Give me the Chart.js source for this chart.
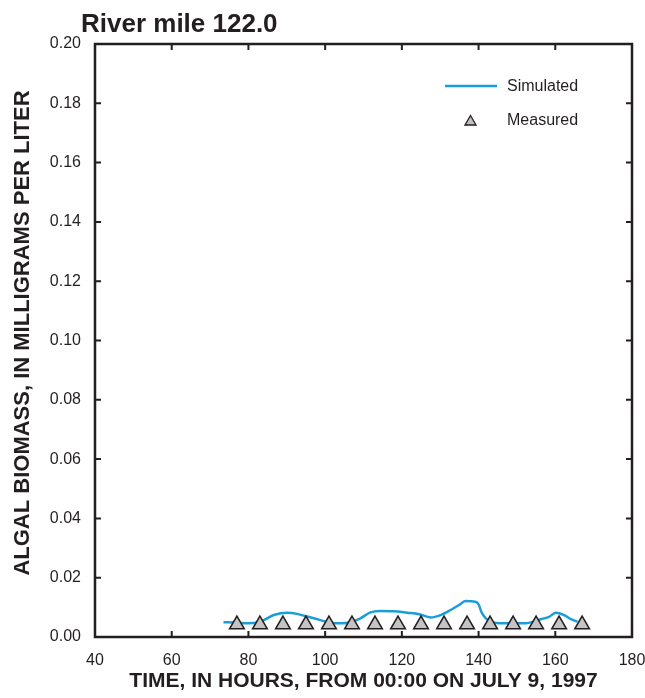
<!DOCTYPE html>
<html>
<head>
<meta charset="utf-8">
<script src="https://cdn.jsdelivr.net/npm/chart.js@4/dist/chart.umd.min.js"></script>
<style>
  html, body { margin: 0; padding: 0; background: #fff; }
  #wrap { width: 645px; height: 698px; position: relative; }
</style>
</head>
<body>
<div id="wrap"><canvas id="chart" width="645" height="698"></canvas></div>
<script>
// time in hours since 00:00 July 9, 1997
var simHours = [73.5, 77.0, 80.0, 83.1, 86.6, 90.1, 92.7, 95.3, 98.8, 101.4, 104.0, 106.6, 109.2, 111.8, 114.4, 117.9, 121.4, 124.5, 127.5, 130.1, 132.7, 134.9, 136.6, 139.2, 140.1, 140.7, 141.9, 144.0, 147.5, 151.9, 154.5, 156.2, 158.4, 160.1, 162.3, 164.1, 165.8];
var simBiomass = [0.0050, 0.0048, 0.0046, 0.0052, 0.0074, 0.0082, 0.0078, 0.0069, 0.0057, 0.0048, 0.0046, 0.0050, 0.0063, 0.0083, 0.0088, 0.0087, 0.0082, 0.0077, 0.0066, 0.0074, 0.0091, 0.0108, 0.0121, 0.0119, 0.0108, 0.0085, 0.0063, 0.0048, 0.0046, 0.0046, 0.0052, 0.0060, 0.0068, 0.0082, 0.0074, 0.0060, 0.0052];

var measHours = [77, 83, 89, 95, 101, 107, 113, 119, 125, 131, 137, 143, 149, 155, 161, 167];
var measBiomass = [0.0042, 0.0042, 0.0042, 0.0042, 0.0042, 0.0042, 0.0042, 0.0042, 0.0042, 0.0042, 0.0042, 0.0042, 0.0042, 0.0042, 0.0042, 0.0042];

var xTicks = [40, 60, 80, 100, 120, 140, 160, 180];
var yTicks = [0, 0.02, 0.04, 0.06, 0.08, 0.10, 0.12, 0.14, 0.16, 0.18, 0.20];

var FONT = "'Liberation Sans', Arial, Helvetica, sans-serif";
var INK = '#231f20';
var BLUE = '#1b9dd9';

Chart.defaults.font.family = FONT;
Chart.defaults.color = INK;

function toPoints(xs, ys) {
  var pts = [];
  for (let i = 0; i < xs.length; i++) pts.push({x: xs[i], y: ys[i]});
  return pts;
}

// frame, inward ticks, title, y label and legend
var decor = {
  id: 'decor',
  afterDraw: function(chart) {
    var ctx = chart.ctx;
    var a = chart.chartArea;
    var xs = chart.scales.x, ys = chart.scales.y;
    ctx.save();
    ctx.strokeStyle = INK;
    ctx.lineWidth = 2.5;
    ctx.strokeRect(a.left, a.top, a.right - a.left, a.bottom - a.top);

    ctx.lineWidth = 2;
    ctx.beginPath();
    xTicks.forEach(function(v) {
      var px = xs.getPixelForValue(v);
      ctx.moveTo(px, a.bottom); ctx.lineTo(px, a.bottom - 6);
      ctx.moveTo(px, a.top); ctx.lineTo(px, a.top + 6);
    });
    yTicks.forEach(function(v) {
      var py = ys.getPixelForValue(v);
      ctx.moveTo(a.left, py); ctx.lineTo(a.left + 6, py);
      ctx.moveTo(a.right, py); ctx.lineTo(a.right - 6, py);
    });
    ctx.stroke();

    // title
    ctx.fillStyle = INK;
    ctx.font = 'bold 26px ' + FONT;
    ctx.textAlign = 'left';
    ctx.textBaseline = 'alphabetic';
    ctx.fillText('River mile 122.0', 81, 32);

    // y axis title
    ctx.save();
    ctx.translate(23, 333);
    ctx.rotate(-Math.PI / 2);
    ctx.font = 'bold 22px ' + FONT;
    ctx.textAlign = 'center';
    ctx.textBaseline = 'middle';
    ctx.fillText('ALGAL BIOMASS, IN MILLIGRAMS PER LITER', 0, 0);
    ctx.restore();

    // legend
    ctx.strokeStyle = BLUE;
    ctx.lineWidth = 2.5;
    ctx.beginPath();
    ctx.moveTo(445, 86); ctx.lineTo(497, 86);
    ctx.stroke();

    ctx.fillStyle = '#c0c0c0';
    ctx.strokeStyle = INK;
    ctx.lineWidth = 1.3;
    ctx.beginPath();
    ctx.moveTo(470.5, 115.5);
    ctx.lineTo(476, 125);
    ctx.lineTo(465, 125);
    ctx.closePath();
    ctx.fill();
    ctx.stroke();

    ctx.fillStyle = INK;
    ctx.font = '16px ' + FONT;
    ctx.textAlign = 'left';
    ctx.textBaseline = 'middle';
    ctx.fillText('Simulated', 507, 87);
    ctx.fillText('Measured', 507, 121);
    ctx.restore();
  }
};

var ctx = document.getElementById('chart').getContext('2d');
var myChart = new Chart(ctx, {
  type: 'scatter',
  data: {
    datasets: [{
      label: 'Simulated',
      data: toPoints(simHours, simBiomass),
      showLine: true,
      borderColor: BLUE,
      borderWidth: 2.5,
      pointRadius: 0,
      cubicInterpolationMode: 'monotone',
      order: 2
    }, {
      label: 'Measured',
      data: toPoints(measHours, measBiomass),
      showLine: false,
      pointStyle: 'triangle',
      pointRadius: 8.5,
      backgroundColor: '#c4c4c4',
      borderColor: INK,
      borderWidth: 1.5,
      order: 1
    }]
  },
  options: {
    responsive: false,
    animation: false,
    layout: { padding: { top: 44, right: 13, left: 0, bottom: 0 } },
    plugins: {
      legend: { display: false },
      tooltip: { enabled: false }
    },
    scales: {
      x: {
        type: 'linear',
        min: 40, max: 180,
        grid: { display: false, drawTicks: false },
        border: { display: false },
        afterBuildTicks: function(s) { s.ticks = xTicks.map(function(v) { return {value: v}; }); },
        afterFit: function(s) { s.height = 61; s.paddingLeft = 0; s.paddingRight = 0; },
        ticks: { padding: 14, font: { size: 16 }, color: INK, maxRotation: 0 },
        title: {
          display: true,
          text: 'TIME, IN HOURS, FROM 00:00 ON JULY 9, 1997',
          font: { size: 21, weight: 'bold' },
          color: INK,
          padding: { top: 0, bottom: 4 }
        }
      },
      y: {
        min: 0, max: 0.2,
        grid: { display: false, drawTicks: false },
        border: { display: false },
        afterBuildTicks: function(s) { s.ticks = yTicks.map(function(v) { return {value: v}; }); },
        afterFit: function(s) { s.width = 95; s.paddingTop = 0; s.paddingBottom = 0; },
        ticks: {
          padding: 14,
          font: { size: 16 },
          color: INK,
          callback: function(v) { return v.toFixed(2); }
        }
      }
    }
  },
  plugins: [decor]
});
</script>
</body>
</html>
